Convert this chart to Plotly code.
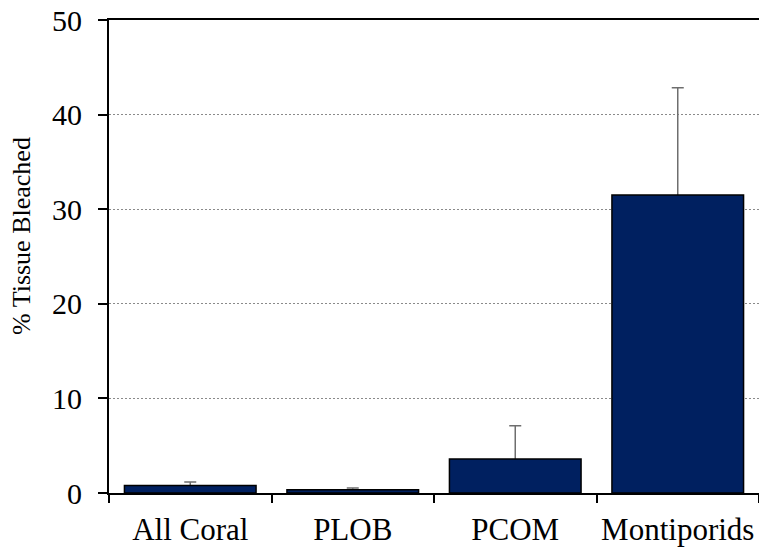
import plotly.graph_objects as go

# Mean percentage of tissue bleached, with upper standard-error bars
categories = ["All Coral", "PLOB", "PCOM", "Montiporids"]
bleached_mean = [0.8, 0.35, 3.6, 31.5]
bleached_err_upper = [0.35, 0.18, 3.5, 11.35]
y_ticks = [0, 10, 20, 30, 40, 50]

FONT = "Liberation Serif"

fig = go.Figure()
# Error-bar layer: transparent bars carrying the whiskers; the visible bars
# drawn over them hide the lower half so only the upper whisker shows.
fig.add_trace(go.Bar(
    x=categories,
    y=bleached_mean,
    width=0.81,
    marker=dict(color="rgba(0,0,0,0)", line=dict(width=0)),
    error_y=dict(
        type="data",
        array=bleached_err_upper,
        color="#6e6e6e",
        thickness=1.5,
        width=6,
    ),
    hoverinfo="skip",
))
fig.add_trace(go.Bar(
    x=categories,
    y=bleached_mean,
    width=0.81,
    marker=dict(color="#002060", line=dict(color="#000000", width=1.5)),
))

fig.update_layout(
    width=759,
    height=548,
    barmode="overlay",
    margin=dict(l=109, r=0, t=20, b=55),
    paper_bgcolor="white",
    plot_bgcolor="white",
    showlegend=False,
    xaxis=dict(
        type="category",
        range=[-0.5, 3.5],
        tickson="boundaries",
        tickangle=0,
        automargin=False,
        ticks="outside",
        ticklen=8,
        tickwidth=1.5,
        tickcolor="#000000",
        showline=True,
        linecolor="#000000",
        linewidth=2,
        mirror=True,
        showgrid=False,
        tickfont=dict(size=31, family=FONT, color="#000000"),
        ticklabelstandoff=8,
    ),
    yaxis=dict(
        range=[0, 50],
        tickvals=y_ticks,
        automargin=False,
        ticks="outside",
        ticklen=9,
        tickwidth=1.5,
        tickcolor="#000000",
        showline=True,
        linecolor="#000000",
        linewidth=2,
        showgrid=True,
        gridcolor="#8a8a8a",
        gridwidth=1,
        griddash="2px,2px",
        zeroline=False,
        tickfont=dict(size=30, family=FONT, color="#000000"),
        ticklabelstandoff=10,
    ),
    annotations=[dict(
        text="% Tissue Bleached",
        textangle=-90,
        xref="paper", yref="paper",
        x=(22 - 109) / 650, y=(493 - 236) / 473,
        xanchor="center", yanchor="middle",
        showarrow=False,
        font=dict(size=26, family=FONT, color="#000000"),
    )],
)

fig.write_html("out.html")
